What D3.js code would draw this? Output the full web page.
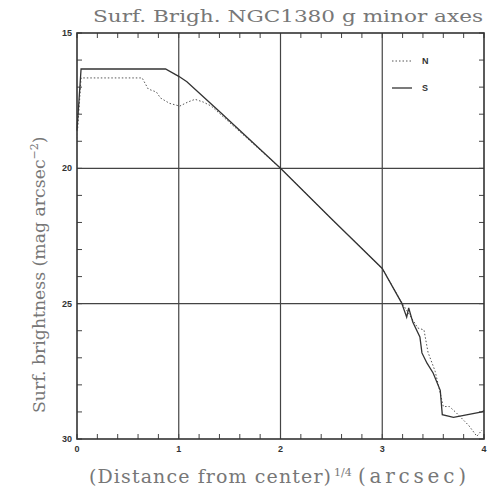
<!DOCTYPE html>
<head>
<meta charset="utf-8">
<title>Surf. Brigh. NGC1380</title>
<script src="https://d3js.org/d3.v7.min.js"></script>
<style>
  body { margin: 0; background: #fff; }
  .tick-lab { font-family: "Liberation Sans", Arial, sans-serif; font-weight: bold; font-size: 9px; fill: #333; }
  .big { font-family: "DejaVu Serif", serif; fill: #777; }
</style>
</head>
<body>
<div id="container"></div>
<script>
// ---- data ----
var xTicks = [0, 1, 2, 3, 4];
var yTicks = [15, 20, 25, 30];
// S (solid)
var sX = [0.0, 0.04, 0.87, 1.0, 1.08, 1.4, 2.0, 2.5, 3.0, 3.19, 3.24, 3.26, 3.30, 3.37, 3.39, 3.44, 3.50, 3.57, 3.59, 3.70, 3.98, 4.0];
var sY = [18.6, 16.33, 16.33, 16.6, 16.8, 17.9, 20.0, 21.86, 23.7, 24.97, 25.5, 25.16, 25.68, 26.23, 26.82, 27.2, 27.56, 28.2, 29.1, 29.2, 29.0, 28.95];
// N (dotted)
var nX = [0.0, 0.04, 0.64, 0.70, 0.78, 0.82, 0.91, 1.01, 1.09, 1.16, 1.24, 1.32, 2.0, 2.5, 3.0, 3.19, 3.30, 3.35, 3.41, 3.45, 3.52, 3.60, 3.66, 3.73, 3.85, 3.93, 3.98];
var nY = [18.9, 16.66, 16.66, 17.07, 17.18, 17.4, 17.6, 17.7, 17.55, 17.45, 17.55, 17.7, 20.0, 21.86, 23.7, 24.95, 25.6, 25.9, 25.97, 26.8, 27.5, 28.8, 28.8, 29.04, 29.5, 29.9, 29.67];
var seriesNames = ["N", "S"];

var W = 500, H = 491;
var margin = {left: 77, right: 16, top: 33, bottom: 52};
var width = W - margin.left - margin.right;
var height = H - margin.top - margin.bottom;

var svg = d3.select("#container").append("svg")
  .attr("width", W).attr("height", H);
var g = svg.append("g").attr("transform", "translate(" + margin.left + "," + margin.top + ")");

var x = d3.scaleLinear().domain([0, 4]).range([0, width]);
var y = d3.scaleLinear().domain([15, 30]).range([0, height]);

// grid at major ticks
g.selectAll(".vg").data([1, 2, 3]).enter().append("line")
  .attr("x1", d => x(d)).attr("x2", d => x(d)).attr("y1", 0).attr("y2", height)
  .attr("stroke", "#444").attr("stroke-width", 1.2);
g.selectAll(".hg").data([20, 25]).enter().append("line")
  .attr("y1", d => y(d)).attr("y2", d => y(d)).attr("x1", 0).attr("x2", width)
  .attr("stroke", "#444").attr("stroke-width", 1.2);

// minor ticks, inward on all four sides
var xMinor = d3.range(0, 4.001, 0.2);
var yMinor = d3.range(15, 30.001, 1);
var tl = 5;
xMinor.forEach(function(v) {
  g.append("line").attr("x1", x(v)).attr("x2", x(v)).attr("y1", height).attr("y2", height - tl).attr("stroke", "#444");
  g.append("line").attr("x1", x(v)).attr("x2", x(v)).attr("y1", 0).attr("y2", tl).attr("stroke", "#444");
});
yMinor.forEach(function(v) {
  g.append("line").attr("y1", y(v)).attr("y2", y(v)).attr("x1", 0).attr("x2", tl).attr("stroke", "#444");
  g.append("line").attr("y1", y(v)).attr("y2", y(v)).attr("x1", width).attr("x2", width - tl).attr("stroke", "#444");
});

// frame
g.append("rect").attr("width", width).attr("height", height)
  .attr("fill", "none").attr("stroke", "#333").attr("stroke-width", 1.6);

// tick labels
g.selectAll(".xl").data(xTicks).enter().append("text")
  .attr("class", "tick-lab").attr("x", d => x(d)).attr("y", height + 13)
  .attr("text-anchor", "middle").text(d => d);
g.selectAll(".yl").data(yTicks).enter().append("text")
  .attr("class", "tick-lab").attr("x", -5).attr("y", d => y(d) + 3)
  .attr("text-anchor", "end").text(d => d);

// lines
var line = d3.line().x(d => x(d[0])).y(d => y(d[1]));
var sData = d3.zip(sX, sY), nData = d3.zip(nX, nY);
g.append("path").datum(nData).attr("d", line).attr("fill", "none")
  .attr("stroke", "#555").attr("stroke-width", 1).attr("stroke-dasharray", "1.5,2");
g.append("path").datum(sData).attr("d", line).attr("fill", "none")
  .attr("stroke", "#333").attr("stroke-width", 1.3);

// legend
var lg = g.append("g").attr("transform", "translate(" + (392 - margin.left) + "," + (61 - margin.top) + ")");
seriesNames.forEach(function(name, i) {
  lg.append("line").attr("x1", 0).attr("x2", 20).attr("y1", i * 27).attr("y2", i * 27)
    .attr("stroke", i == 0 ? "#555" : "#333").attr("stroke-width", i == 0 ? 1 : 1.3)
    .attr("stroke-dasharray", i == 0 ? "1.5,2" : null);
  lg.append("text").attr("class", "tick-lab").attr("x", 30).attr("y", i * 27 + 3).text(name);
});

// title and axis labels
svg.append("text").attr("class", "big").attr("x", 93).attr("y", 22)
  .attr("font-size", 17).attr("textLength", 390).attr("lengthAdjust", "spacingAndGlyphs")
  .text("Surf. Brigh. NGC1380 g minor axes");

var xl = svg.append("text").attr("class", "big").attr("y", 483).attr("font-size", 19);
xl.append("tspan").attr("x", 89).attr("textLength", 242).attr("lengthAdjust", "spacing").text("(Distance from center)");
xl.append("tspan").attr("x", 334).attr("font-size", 11).attr("dy", -7).text("1/4");
xl.append("tspan").attr("x", 358).attr("dy", 7).attr("font-size", 20).attr("textLength", 108).attr("lengthAdjust", "spacing").text("(arcsec)");

var yl = svg.append("text").attr("class", "big")
  .attr("transform", "translate(45,413) rotate(-90)").attr("font-size", 17.3);
yl.append("tspan").text("Surf. brightness (mag arcsec");
yl.append("tspan").attr("font-size", 11).attr("dy", -7).text("−2");
yl.append("tspan").attr("dy", 7).text(")");
</script>
</body>
